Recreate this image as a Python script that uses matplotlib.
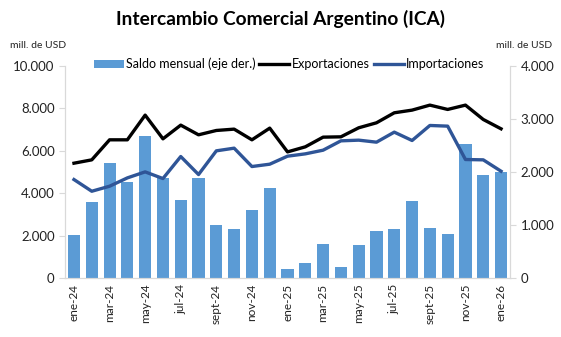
import matplotlib.pyplot as plt
import numpy as np
from matplotlib.ticker import FuncFormatter

plt.rcParams['font.family'] = ['Lato', 'DejaVu Sans']

# Monthly data, ene-24 .. ene-26 (millones de USD)
meses = ["ene-24", "feb-24", "mar-24", "abr-24", "may-24", "jun-24", "jul-24",
         "ago-24", "sept-24", "oct-24", "nov-24", "dic-24", "ene-25", "feb-25",
         "mar-25", "abr-25", "may-25", "jun-25", "jul-25", "ago-25", "sept-25",
         "oct-25", "nov-25", "dic-25", "ene-26"]
saldo = [810, 1437, 2171, 1816, 2671, 1892, 1468, 1892, 1000, 918, 1278, 1690,
         165, 290, 633, 215, 614, 886, 918, 1449, 937, 829, 2538, 1943, 2000]
exportaciones = [5417, 5575, 6520, 6520, 7685, 6567, 7213, 6756, 6961, 7024,
                 6520, 7071, 5950, 6189, 6646, 6661, 7087, 7323, 7795, 7921,
                 8157, 7953, 8157, 7480, 7039]
importaciones = [4646, 4094, 4331, 4724, 5008, 4693, 5732, 4882, 6000, 6126,
                 5260, 5370, 5748, 5858, 6031, 6472, 6504, 6409, 6882, 6488,
                 7197, 7165, 5591, 5575, 5039]

x = np.arange(len(meses))
miles = FuncFormatter(lambda v, p: f"{v:,.0f}".replace(",", "."))
gris = "#d9d9d9"

fig = plt.figure(figsize=(5.61, 3.37), dpi=100)
ax = fig.add_axes([0.116, 0.175, 0.793, 0.629])
ax2 = ax.twinx()

# bars go on the right axis, behind the lines
ax2.set_zorder(1)
ax.set_zorder(2)
ax.patch.set_visible(False)

b = ax2.bar(x, saldo, width=0.68, color="#5b9bd5", label="Saldo mensual (eje der.)")
l1, = ax.plot(x, exportaciones, color="black", lw=2.4, label="Exportaciones")
l2, = ax.plot(x, importaciones, color="#2f5597", lw=2.4, label="Importaciones")

ax.set_xlim(-0.5, len(meses) - 0.5)
ax.set_ylim(0, 10000)
ax2.set_ylim(0, 4000)
ax.set_yticks(np.arange(0, 10001, 2000))
ax2.set_yticks(np.arange(0, 4001, 1000))
ax.yaxis.set_major_formatter(miles)
ax2.yaxis.set_major_formatter(miles)

ax.set_xticks(x[::2])
ax.set_xticklabels(meses[::2], rotation=90, fontsize=8.5, color="#222222")
ax.tick_params(axis="x", length=0, pad=4)
ax.tick_params(axis="y", labelsize=9.5, color=gris, length=4, labelcolor="#222222")
ax2.tick_params(axis="y", labelsize=9.5, color=gris, length=4, labelcolor="#222222")

for a in (ax, ax2):
    a.spines["top"].set_visible(False)
    for s in ("left", "right", "bottom"):
        a.spines[s].set_color(gris)

fig.text(0.5, 0.945, "Intercambio Comercial Argentino (ICA)", ha="center",
         va="center", fontsize=13.8, fontweight="bold")
fig.text(0.018, 0.865, "mill. de USD", fontsize=7.5, color="#222222", va="center")
fig.text(0.985, 0.865, "mill. de USD", fontsize=7.5, color="#222222",
         va="center", ha="right")

fig.legend(handles=[b, l1, l2], loc="center", bbox_to_anchor=(0.515, 0.81),
           ncol=3, frameon=False, fontsize=9, handlelength=2.4,
           handletextpad=0.2, columnspacing=0.3)

fig.savefig("out.png", dpi=100)
